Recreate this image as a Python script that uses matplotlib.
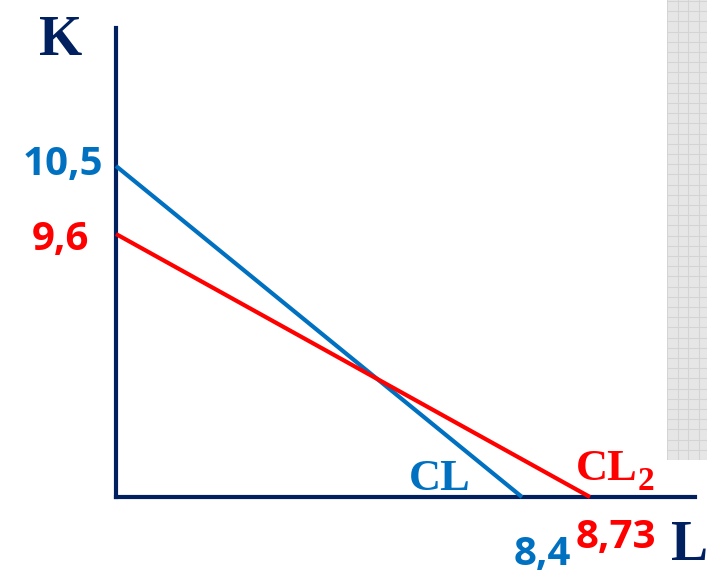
import numpy as np
import matplotlib
matplotlib.use("Agg")
import matplotlib.pyplot as plt

# ---- data ----
cl_intercepts = [10.5, 8.4]      # K-intercept, L-intercept of CL
cl2_intercepts = [9.6, 8.73]     # K-intercept, L-intercept of CL2
k_tick_labels = ["10,5", "9,6"]
l_tick_labels = ["8,4", "8,73"]
series_names = ["CL", "CL"]
series_subscripts = ["", "2"]

NAVY = "#002060"
BLUE = "#0070C0"
RED = "#FF0000"

W, H = 707, 576

# schematic (non-proportional) axis scales: piecewise-linear maps
y_vals = np.array([0.0, 9.6, 10.5, 30.0])
y_pos = np.array([0.0, 263.0, 331.0, 331.0 + 19.5 * 76.0])
x_vals = np.array([0.0, 8.4, 8.73, 30.0])
x_pos = np.array([0.0, 406.0, 474.0, 474.0 + 21.27 * 206.0])

def fy(v): return np.interp(v, y_vals, y_pos)
def iy(p): return np.interp(p, y_pos, y_vals)
def fx(v): return np.interp(v, x_vals, x_pos)
def ix(p): return np.interp(p, x_pos, x_vals)

fig = plt.figure(figsize=(W / 100, H / 100), dpi=100)

def fxy(px, py):
    return px / W, 1 - py / H

# decorative grey grid strip on the right
strip = fig.add_axes([667 / W, 1 - 460 / H, 40 / W, 460 / H])
strip.set_facecolor("#E6E6E6")
strip.set_xlim(0, 40); strip.set_ylim(0, 460)
for xv in np.arange(0, 41, 10.5):
    strip.axvline(xv, color="#D4D4D4", lw=0.8)
for yv in np.arange(0, 461, 10.2):
    strip.axhline(yv, color="#D4D4D4", lw=0.8)
strip.set_xticks([]); strip.set_yticks([])
for s in strip.spines.values():
    s.set_visible(False)

ax = fig.add_axes([116 / W, 1 - 497 / H, 579 / W, 469 / H])
ax.set_xscale("function", functions=(fx, ix))
ax.set_yscale("function", functions=(fy, iy))
ax.set_xlim(0, ix(579.0))
ax.set_ylim(0, iy(469.0))
ax.patch.set_alpha(0)

for s in ["top", "right"]:
    ax.spines[s].set_visible(False)
for s in ["left", "bottom"]:
    ax.spines[s].set_color(NAVY)
    ax.spines[s].set_linewidth(3)
ax.set_xticks([]); ax.set_yticks([])
ax.minorticks_off()

ax.plot([0, cl_intercepts[1]], [cl_intercepts[0], 0], color=BLUE, lw=3,
        solid_capstyle="butt", zorder=3, clip_on=False)
ax.plot([0, cl2_intercepts[1]], [cl2_intercepts[0], 0], color=RED, lw=3,
        solid_capstyle="butt", zorder=4, clip_on=False)

serif = ["Liberation Serif", "DejaVu Serif"]
sans = ["Open Sans", "DejaVu Sans"]

# axis letters
fig.text(*fxy(61, 55), "K", color=NAVY, fontsize=40, fontweight="bold",
         family=serif, ha="center", va="baseline")
fig.text(*fxy(671, 560), "L", color=NAVY, fontsize=40, fontweight="bold",
         family=serif, ha="left", va="baseline")

# intercept labels
fig.text(*fxy(103, 175), k_tick_labels[0], color=BLUE, fontsize=29,
         fontweight="bold", family=sans, ha="right", va="baseline")
fig.text(*fxy(89, 250), k_tick_labels[1], color=RED, fontsize=29,
         fontweight="bold", family=sans, ha="right", va="baseline")
fig.text(*fxy(542, 565), l_tick_labels[0], color=BLUE, fontsize=29,
         fontweight="bold", family=sans, ha="center", va="baseline")
fig.text(*fxy(616, 548), l_tick_labels[1], color=RED, fontsize=29,
         fontweight="bold", family=sans, ha="center", va="baseline")

# series names
fig.text(*fxy(409, 490), series_names[0], color=BLUE, fontsize=32,
         fontweight="bold", family=serif, ha="left", va="baseline")
fig.text(*fxy(576, 480), series_names[1], color=RED, fontsize=32,
         fontweight="bold", family=serif, ha="left", va="baseline")
fig.text(*fxy(638, 490), series_subscripts[1], color=RED, fontsize=24,
         fontweight="bold", family=serif, ha="left", va="baseline")

fig.savefig("out.png", dpi=100)
